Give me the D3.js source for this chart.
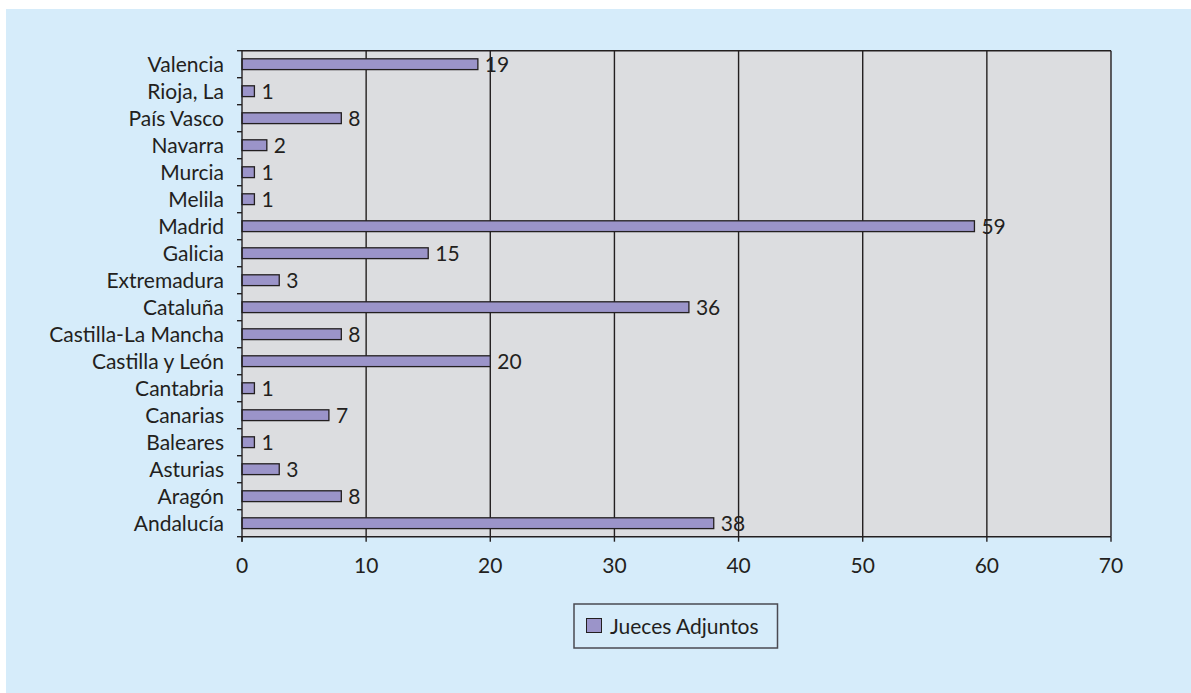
<!DOCTYPE html>
<html>
<head>
<meta charset="utf-8">
<script src="https://cdn.jsdelivr.net/npm/d3@7"></script>
<style>
  html, body { margin: 0; padding: 0; background: #ffffff; }
  svg { display: block; }
  text { font-family: Lato, "Open Sans", sans-serif; fill: #231f20; }
</style>
</head>
<body>
<svg id="chart" width="1191" height="693"></svg>
<script>
const categories = ["Valencia", "Rioja, La", "País Vasco", "Navarra", "Murcia", "Melila", "Madrid", "Galicia", "Extremadura", "Cataluña", "Castilla-La Mancha", "Castilla y León", "Cantabria", "Canarias", "Baleares", "Asturias", "Aragón", "Andalucía"];
const values = [19, 1, 8, 2, 1, 1, 59, 15, 3, 36, 8, 20, 1, 7, 1, 3, 8, 38];
const xTicks = [0, 10, 20, 30, 40, 50, 60, 70];
const seriesName = "Jueces Adjuntos";

const svg = d3.select("#chart");
const W = 1191, H = 693;

svg.append("rect").attr("x", 6).attr("y", 9).attr("width", W - 6).attr("height", H - 9).attr("fill", "#d6ecfa");

const mLeft = 242, mRight = 1111, mTop = 50.7, mBottom = 536.7;

const x = d3.scaleLinear().domain([0, 70]).range([mLeft, mRight]);
const y = d3.scaleBand().domain(categories).range([mTop, mBottom]).paddingInner(0.6).paddingOuter(0.3);
const yb = d3.scaleBand().domain(categories).range([mTop, mBottom]);

svg.append("rect").attr("x", mLeft).attr("y", mTop).attr("width", mRight - mLeft).attr("height", mBottom - mTop)
  .attr("fill", "#dcdde0");

// gridlines
svg.append("g").selectAll("line").data(xTicks.filter(d => d > 0)).join("line")
  .attr("x1", d => x(d)).attr("x2", d => x(d)).attr("y1", mTop).attr("y2", mBottom)
  .attr("stroke", "#231f20").attr("stroke-width", 1.4);

// top border
svg.append("line").attr("x1", mLeft).attr("x2", mRight).attr("y1", mTop).attr("y2", mTop)
  .attr("stroke", "#231f20").attr("stroke-width", 1.4);

// bars
svg.append("g").selectAll("rect").data(values).join("rect")
  .attr("x", x(0)).attr("y", (d, i) => y(categories[i]))
  .attr("width", d => x(d) - x(0)).attr("height", y.bandwidth())
  .attr("fill", "#9b94c9").attr("stroke", "#231f20").attr("stroke-width", 1.3);

// value labels
svg.append("g").selectAll("text").data(values).join("text")
  .attr("x", d => x(d) + 7).attr("y", (d, i) => y(categories[i]) + y.bandwidth() / 2)
  .attr("dy", "0.36em").attr("font-size", 21).text(d => d);

// y axis
const yAxis = svg.append("g").attr("transform", `translate(${mLeft},0)`);
yAxis.append("line").attr("x1", 0).attr("x2", 0).attr("y1", mTop).attr("y2", mBottom + 5)
  .attr("stroke", "#231f20").attr("stroke-width", 1.4);
const bounds = categories.map(c => yb(c)).concat([mBottom]);
yAxis.selectAll("line.tick").data(bounds).join("line").attr("class", "tick")
  .attr("x1", -5).attr("x2", 0).attr("y1", d => d).attr("y2", d => d)
  .attr("stroke", "#231f20").attr("stroke-width", 1.4);
yAxis.selectAll("text").data(categories).join("text")
  .attr("x", -18).attr("y", d => yb(d) + yb.bandwidth() / 2).attr("dy", "0.36em")
  .attr("text-anchor", "end").attr("font-size", 21).text(d => d);

// x axis
const xAxis = svg.append("g");
xAxis.append("line").attr("x1", mLeft).attr("x2", mRight).attr("y1", mBottom).attr("y2", mBottom)
  .attr("stroke", "#231f20").attr("stroke-width", 1.4);
xAxis.selectAll("line.tick").data(xTicks).join("line").attr("class", "tick")
  .attr("x1", d => x(d)).attr("x2", d => x(d)).attr("y1", mBottom).attr("y2", mBottom + 5)
  .attr("stroke", "#231f20").attr("stroke-width", 1.4);
xAxis.selectAll("text").data(xTicks).join("text")
  .attr("x", d => x(d)).attr("y", 565).attr("dy", "0.36em")
  .attr("text-anchor", "middle").attr("font-size", 21).text(d => d);

// legend
const lg = svg.append("g");
lg.append("rect").attr("x", 574).attr("y", 604).attr("width", 203.5).attr("height", 44)
  .attr("fill", "none").attr("stroke", "#4a4a52").attr("stroke-width", 1.5);
lg.append("rect").attr("x", 586.5).attr("y", 618.5).attr("width", 15).attr("height", 14)
  .attr("fill", "#9b94c9").attr("stroke", "#231f20").attr("stroke-width", 1);
lg.append("text").attr("x", 610).attr("y", 626).attr("dy", "0.36em").attr("font-size", 21).text(seriesName);
</script>
</body>
</html>
